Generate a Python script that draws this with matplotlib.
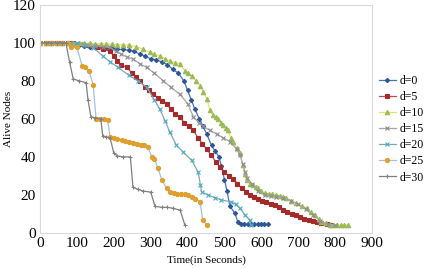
import numpy as np
import matplotlib.pyplot as plt

plt.rcParams['font.family'] = ['Liberation Serif', 'DejaVu Serif']

# d=0
t0 = [0, 15, 30, 45, 60, 75, 90, 105, 120, 135, 150, 165, 180, 195, 210, 225, 240, 255,
      270, 285, 300, 315, 330, 345, 360, 375, 390, 400, 410, 420, 432, 442, 452, 465, 475,
      485, 492, 500, 507, 515, 528, 536, 545, 554, 563, 572, 581, 590, 599, 608, 617]
v0 = [100, 100, 100, 100, 100, 100, 99.5, 99, 98.5, 98, 97.5, 97.5, 97, 97, 96.5, 96.5, 96, 95.5,
      94, 93, 91.5, 91, 90, 88.5, 86, 84, 80, 75, 70, 65, 60, 56, 52, 46, 43,
      40, 35, 28, 22, 14, 10.5, 6, 4.5, 4.5, 4.5, 4.5, 4.5, 4.5, 4.5, 4.5, 4.5]

# d=5
t5 = [0, 15, 30, 45, 60, 75, 90, 110, 130, 154, 172, 190, 200, 208, 220, 235, 250, 260, 271,
      285, 296, 307, 320, 332, 343, 355, 367, 379, 391, 403, 416, 428, 440, 452, 464, 476,
      488, 500, 512, 524, 535, 547, 558, 569, 580, 592, 603, 614, 626, 637, 648, 659, 670,
      682, 694, 705, 716, 728, 739, 750, 762, 777, 790]
v5 = [100, 100, 100, 100, 100, 100, 100, 99.5, 99, 97.5, 96.5, 95.5, 93, 90.5, 88.5, 87, 84, 82, 80,
      76.5, 75, 73, 71, 69.5, 68, 65, 62.5, 61, 58, 56, 54, 50, 47, 44, 41, 37.5,
      34.7, 32, 30, 28.6, 26, 23.5, 21.5, 20, 19, 18, 17, 16.4, 15.5, 14.5, 13.5, 12, 11,
      10, 9.5, 8.5, 7.5, 7, 6.5, 6, 5.3, 4.5, 4.2]

# d=10
t10 = [0, 15, 30, 45, 60, 75, 90, 105, 120, 135, 150, 165, 180, 195, 210, 225, 240, 260, 280,
       298, 310, 325, 340, 352, 365, 379, 393, 402, 411, 422, 434, 443, 452, 461, 469, 476,
       483, 490, 496, 503, 510, 517, 524, 533, 542, 550, 555, 560, 569, 578, 585, 591, 600,
       610, 620, 630, 641, 650, 660, 668, 680, 695, 710, 723, 735, 745, 755, 763, 775, 786,
       795, 805, 815, 825, 835]
v10 = [100, 100, 100, 100, 100, 100, 100, 100, 99.8, 99.6, 99.5, 99.4, 99.3, 99.1, 99, 98.9, 98.8, 98, 96.5,
       95, 94, 93, 91.5, 90.5, 89.5, 89, 85.3, 84, 82.7, 80, 77.5, 74, 70.5, 64.4, 61.8, 61,
       60, 58, 56.5, 55, 54, 50, 47.8, 44.5, 41.8, 35.6, 31, 27.7, 26, 25, 24, 23.4, 22,
       21, 20.5, 20.3, 20, 19.5, 19, 18.3, 17, 15.6, 14.3, 13, 11, 9.4, 7.5, 6, 5, 4.2,
       4.2, 4.2, 4.2, 4.2, 4.2]

# d=15
t15 = [0, 20, 40, 60, 80, 100, 125, 150, 170, 190, 205, 220, 236, 252, 270, 289, 310, 334, 355,
       379, 400, 416, 430, 443, 460, 479, 497, 515, 533, 542, 550, 556, 560, 575, 590, 610,
       625, 641, 660, 680, 700, 720, 740, 760, 780, 800]
v15 = [100, 100, 100, 100, 100, 99.5, 99, 98.5, 98, 97.5, 95.5, 94, 92.5, 91.5, 89, 87, 84, 80, 76.5,
       73, 68, 61, 58, 56, 54, 52, 50, 48, 44, 41, 36, 32, 29, 26, 22, 20,
       19.5, 19, 18.5, 17, 15, 12.5, 9.5, 6.5, 4.5, 4.2]

# d=20
t20 = [0, 20, 40, 60, 80, 100, 120, 144, 170, 190, 212, 240, 265, 289, 310, 325, 339, 352, 370,
       388, 411, 429, 435, 438, 455, 475, 492, 519, 530, 542, 556, 569, 572]
v20 = [100, 100, 100, 100, 100, 100, 99, 97.4, 93, 90, 87, 83, 80, 76.6, 70, 65, 59, 53, 46,
       42.6, 38.2, 32, 25, 21.6, 20, 18.5, 17.3, 16.4, 15, 13, 9.4, 6.8, 4]

# d=25
t25 = [0, 15, 30, 45, 60, 75, 85, 100, 114, 122, 133, 144, 152, 163, 173, 183, 190, 200, 210, 221,
       231, 241, 251, 262, 273, 283, 293, 303, 310, 320, 330, 343, 352, 362, 372, 382, 392,
       402, 411, 420, 434, 441, 452]
v25 = [100, 100, 100, 100, 100, 100, 97.5, 97.5, 88, 87, 85, 78, 60, 60, 60, 59.5, 50.5, 50, 49.5, 49,
       48.5, 48, 47.5, 47, 46.5, 46, 45, 40, 39, 34, 28, 23.5, 21.5, 21, 20.5, 20.5, 20.5,
       20, 19, 18, 16.5, 7, 4]

# d=30
t30 = [0, 15, 30, 45, 60, 70, 80, 90, 105, 125, 130, 138, 150, 165, 170, 180, 190, 200, 210, 225,
       245, 252, 265, 280, 300, 312, 330, 345, 360, 380, 393]
v30 = [100, 100, 100, 100, 100, 100, 90, 81, 80, 79, 70, 61, 60.5, 60, 51, 50.5, 50, 42, 40.5, 40,
       40, 24, 23, 22, 21.5, 14, 13.5, 13.5, 13, 12, 4]

series = [
    ('d=0', t0, v0, '#4472C4', '#2E5597', 'D', 2.2),
    ('d=5', t5, v5, '#C0504D', '#A52A2A', 's', 3.2),
    ('d=10', t10, v10, '#EBE06A', '#9BBB59', '^', 3.2),
    ('d=15', t15, v15, '#A6A6A6', '#8C8C8C', 'x', 2.5),
    ('d=20', t20, v20, '#7FA9B0', '#4BACC6', 'x', 2.5),
    ('d=25', t25, v25, '#9DC3E6', '#E0A030', 'o', 3.0),
    ('d=30', t30, v30, '#808080', '#808080', '+', 3.0),
]

fig = plt.figure(figsize=(4.32, 2.68), dpi=100)
ax = fig.add_axes([0.0926, 0.1306, 0.7685, 0.852])

for name, t, v, lc, mc, m, ms in series:
    ax.plot(t, v, color=lc, lw=0.9, marker=m, ms=ms, mfc=mc, mec=mc, mew=0.8, label=name)

ax.set_xlim(0, 900)
ax.set_ylim(0, 120)
ax.set_xticks(range(0, 901, 100))
ax.set_yticks(range(0, 121, 20))
ax.tick_params(length=0, labelsize=11, pad=3)
for s in ax.spines.values():
    s.set_color('#D9D9D9')
    s.set_linewidth(0.8)

ax.set_xlabel('Time(in Seconds)', fontsize=8, labelpad=4)
ax.set_ylabel('Alive Nodes', fontsize=8)
ax.yaxis.set_label_coords(-0.082, 0.5)

ax.legend(loc='center left', bbox_to_anchor=(1.0, 0.455), frameon=False, fontsize=8.5,
          handlelength=1.4, handletextpad=0.3, labelspacing=0.35, borderaxespad=0.3,
          borderpad=0.3)

fig.savefig('out.png', dpi=100)
